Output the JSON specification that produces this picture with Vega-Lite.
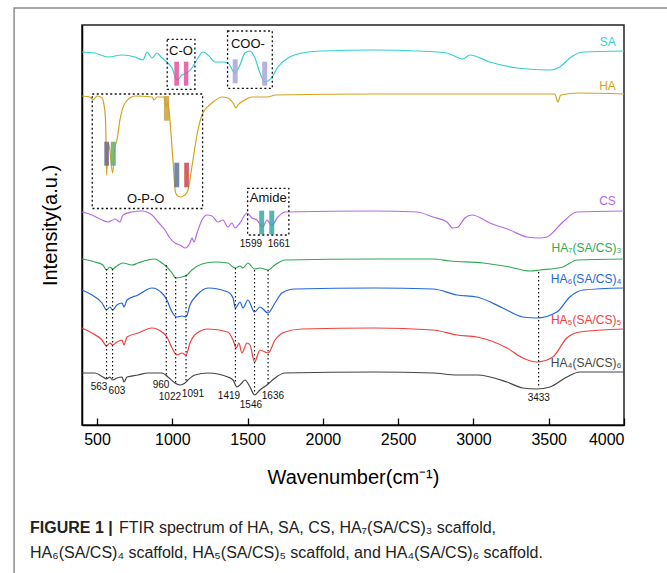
{
  "$schema": "https://vega.github.io/schema/vega-lite/v6.json",
  "width": 542,
  "height": 400,
  "autosize": {"type": "none"},
  "padding": {"left": 82, "top": 25, "right": 43, "bottom": 148},
  "background": "white",
  "config": {
    "view": {"stroke": "#222", "strokeWidth": 1.5},
    "font": "Liberation Sans"
  },
  "datasets": {
    "spectra": [
      {"s":"SA","wn":400,"v":373},{"s":"SA","wn":486,"v":372},{"s":"SA","wn":573,"v":368},{"s":"SA","wn":666,"v":370},{"s":"SA","wn":752,"v":368},{"s":"SA","wn":805,"v":365},{"s":"SA","wn":832,"v":373},{"s":"SA","wn":865,"v":367},{"s":"SA","wn":898,"v":372},{"s":"SA","wn":931,"v":367},{"s":"SA","wn":964,"v":363},{"s":"SA","wn":998,"v":357},{"s":"SA","wn":1031,"v":345},{"s":"SA","wn":1064,"v":350},{"s":"SA","wn":1097,"v":352},{"s":"SA","wn":1130,"v":357},{"s":"SA","wn":1170,"v":367},{"s":"SA","wn":1203,"v":373},{"s":"SA","wn":1237,"v":370},{"s":"SA","wn":1283,"v":363},{"s":"SA","wn":1330,"v":363},{"s":"SA","wn":1369,"v":362},{"s":"SA","wn":1416,"v":352},{"s":"SA","wn":1449,"v":360},{"s":"SA","wn":1482,"v":372},{"s":"SA","wn":1516,"v":374},{"s":"SA","wn":1549,"v":367},{"s":"SA","wn":1582,"v":352},{"s":"SA","wn":1615,"v":343},{"s":"SA","wn":1662,"v":348},{"s":"SA","wn":1701,"v":358},{"s":"SA","wn":1768,"v":367},{"s":"SA","wn":1861,"v":372},{"s":"SA","wn":1994,"v":374},{"s":"SA","wn":2346,"v":375},{"s":"SA","wn":2624,"v":374},{"s":"SA","wn":2824,"v":372},{"s":"SA","wn":2930,"v":366},{"s":"SA","wn":2976,"v":370},{"s":"SA","wn":3109,"v":363},{"s":"SA","wn":3288,"v":357},{"s":"SA","wn":3508,"v":355},{"s":"SA","wn":3574,"v":358},{"s":"SA","wn":3640,"v":367},{"s":"SA","wn":3727,"v":373},{"s":"SA","wn":4000,"v":374},
      {"s":"HA","wn":400,"v":329},{"s":"HA","wn":453,"v":328},{"s":"HA","wn":473,"v":325},{"s":"HA","wn":500,"v":329},{"s":"HA","wn":533,"v":327},{"s":"HA","wn":553,"v":312},{"s":"HA","wn":559,"v":290},{"s":"HA","wn":563,"v":250},{"s":"HA","wn":575,"v":282},{"s":"HA","wn":585,"v":275},{"s":"HA","wn":603,"v":252},{"s":"HA","wn":619,"v":278},{"s":"HA","wn":632,"v":285},{"s":"HA","wn":652,"v":305},{"s":"HA","wn":686,"v":322},{"s":"HA","wn":752,"v":329},{"s":"HA","wn":865,"v":328},{"s":"HA","wn":878,"v":325},{"s":"HA","wn":898,"v":328},{"s":"HA","wn":944,"v":328},{"s":"HA","wn":960,"v":318},{"s":"HA","wn":971,"v":323},{"s":"HA","wn":984,"v":305},{"s":"HA","wn":1004,"v":265},{"s":"HA","wn":1022,"v":232},{"s":"HA","wn":1051,"v":228},{"s":"HA","wn":1084,"v":230},{"s":"HA","wn":1104,"v":235},{"s":"HA","wn":1137,"v":265},{"s":"HA","wn":1170,"v":295},{"s":"HA","wn":1203,"v":312},{"s":"HA","wn":1263,"v":322},{"s":"HA","wn":1330,"v":328},{"s":"HA","wn":1369,"v":327},{"s":"HA","wn":1403,"v":322},{"s":"HA","wn":1423,"v":317},{"s":"HA","wn":1436,"v":320},{"s":"HA","wn":1482,"v":325},{"s":"HA","wn":1529,"v":328},{"s":"HA","wn":1635,"v":328},{"s":"HA","wn":1682,"v":330},{"s":"HA","wn":2346,"v":331},{"s":"HA","wn":3000,"v":331},{"s":"HA","wn":3540,"v":331},{"s":"HA","wn":3561,"v":323},{"s":"HA","wn":3580,"v":330},{"s":"HA","wn":3700,"v":332},{"s":"HA","wn":4000,"v":331},
      {"s":"CS","wn":400,"v":213},{"s":"CS","wn":466,"v":210},{"s":"CS","wn":533,"v":205},{"s":"CS","wn":573,"v":203},{"s":"CS","wn":619,"v":206},{"s":"CS","wn":652,"v":203},{"s":"CS","wn":672,"v":210},{"s":"CS","wn":732,"v":213},{"s":"CS","wn":798,"v":214},{"s":"CS","wn":865,"v":210},{"s":"CS","wn":905,"v":203},{"s":"CS","wn":951,"v":195},{"s":"CS","wn":984,"v":187},{"s":"CS","wn":1018,"v":182},{"s":"CS","wn":1051,"v":180},{"s":"CS","wn":1084,"v":177},{"s":"CS","wn":1117,"v":182},{"s":"CS","wn":1130,"v":187},{"s":"CS","wn":1144,"v":183},{"s":"CS","wn":1164,"v":192},{"s":"CS","wn":1197,"v":205},{"s":"CS","wn":1230,"v":210},{"s":"CS","wn":1263,"v":209},{"s":"CS","wn":1303,"v":203},{"s":"CS","wn":1336,"v":205},{"s":"CS","wn":1369,"v":198},{"s":"CS","wn":1396,"v":202},{"s":"CS","wn":1416,"v":197},{"s":"CS","wn":1449,"v":202},{"s":"CS","wn":1496,"v":212},{"s":"CS","wn":1529,"v":207},{"s":"CS","wn":1562,"v":205},{"s":"CS","wn":1599,"v":198},{"s":"CS","wn":1630,"v":205},{"s":"CS","wn":1641,"v":203},{"s":"CS","wn":1661,"v":200},{"s":"CS","wn":1701,"v":208},{"s":"CS","wn":1748,"v":213},{"s":"CS","wn":2346,"v":214},{"s":"CS","wn":2624,"v":213},{"s":"CS","wn":2731,"v":208},{"s":"CS","wn":2824,"v":203},{"s":"CS","wn":2863,"v":197},{"s":"CS","wn":2897,"v":198},{"s":"CS","wn":2943,"v":207},{"s":"CS","wn":2990,"v":210},{"s":"CS","wn":3109,"v":202},{"s":"CS","wn":3242,"v":195},{"s":"CS","wn":3355,"v":188},{"s":"CS","wn":3441,"v":187},{"s":"CS","wn":3488,"v":188},{"s":"CS","wn":3594,"v":203},{"s":"CS","wn":3687,"v":213},{"s":"CS","wn":4000,"v":214},
      {"s":"HA7","wn":400,"v":166},{"s":"HA7","wn":486,"v":163},{"s":"HA7","wn":539,"v":160},{"s":"HA7","wn":563,"v":155},{"s":"HA7","wn":585,"v":158},{"s":"HA7","wn":603,"v":156},{"s":"HA7","wn":632,"v":159},{"s":"HA7","wn":672,"v":162},{"s":"HA7","wn":732,"v":160},{"s":"HA7","wn":772,"v":162},{"s":"HA7","wn":838,"v":165},{"s":"HA7","wn":885,"v":166},{"s":"HA7","wn":931,"v":162},{"s":"HA7","wn":964,"v":158},{"s":"HA7","wn":998,"v":152},{"s":"HA7","wn":1022,"v":147},{"s":"HA7","wn":1064,"v":148},{"s":"HA7","wn":1097,"v":150},{"s":"HA7","wn":1130,"v":155},{"s":"HA7","wn":1197,"v":161},{"s":"HA7","wn":1283,"v":163},{"s":"HA7","wn":1369,"v":162},{"s":"HA7","wn":1403,"v":158},{"s":"HA7","wn":1419,"v":157},{"s":"HA7","wn":1450,"v":159},{"s":"HA7","wn":1469,"v":157},{"s":"HA7","wn":1502,"v":162},{"s":"HA7","wn":1546,"v":156},{"s":"HA7","wn":1582,"v":157},{"s":"HA7","wn":1636,"v":155},{"s":"HA7","wn":1682,"v":160},{"s":"HA7","wn":1748,"v":165},{"s":"HA7","wn":2346,"v":166},{"s":"HA7","wn":2731,"v":166},{"s":"HA7","wn":2844,"v":164},{"s":"HA7","wn":3063,"v":162},{"s":"HA7","wn":3242,"v":158},{"s":"HA7","wn":3375,"v":154},{"s":"HA7","wn":3441,"v":155},{"s":"HA7","wn":3594,"v":158},{"s":"HA7","wn":3687,"v":165},{"s":"HA7","wn":4000,"v":166},
      {"s":"HA6","wn":400,"v":135},{"s":"HA6","wn":466,"v":130},{"s":"HA6","wn":533,"v":122},{"s":"HA6","wn":563,"v":115},{"s":"HA6","wn":585,"v":118},{"s":"HA6","wn":603,"v":115},{"s":"HA6","wn":632,"v":120},{"s":"HA6","wn":666,"v":122},{"s":"HA6","wn":679,"v":118},{"s":"HA6","wn":699,"v":125},{"s":"HA6","wn":772,"v":130},{"s":"HA6","wn":865,"v":137},{"s":"HA6","wn":931,"v":132},{"s":"HA6","wn":964,"v":125},{"s":"HA6","wn":998,"v":113},{"s":"HA6","wn":1031,"v":108},{"s":"HA6","wn":1064,"v":109},{"s":"HA6","wn":1091,"v":108},{"s":"HA6","wn":1117,"v":120},{"s":"HA6","wn":1164,"v":130},{"s":"HA6","wn":1237,"v":137},{"s":"HA6","wn":1369,"v":133},{"s":"HA6","wn":1403,"v":127},{"s":"HA6","wn":1419,"v":117},{"s":"HA6","wn":1450,"v":123},{"s":"HA6","wn":1469,"v":117},{"s":"HA6","wn":1502,"v":125},{"s":"HA6","wn":1546,"v":113},{"s":"HA6","wn":1582,"v":118},{"s":"HA6","wn":1636,"v":112},{"s":"HA6","wn":1682,"v":122},{"s":"HA6","wn":1728,"v":132},{"s":"HA6","wn":1814,"v":136},{"s":"HA6","wn":2346,"v":137},{"s":"HA6","wn":2731,"v":136},{"s":"HA6","wn":2890,"v":130},{"s":"HA6","wn":3023,"v":128},{"s":"HA6","wn":3195,"v":117},{"s":"HA6","wn":3328,"v":108},{"s":"HA6","wn":3421,"v":107},{"s":"HA6","wn":3554,"v":113},{"s":"HA6","wn":3640,"v":128},{"s":"HA6","wn":3727,"v":135},{"s":"HA6","wn":4000,"v":137},
      {"s":"HA5","wn":400,"v":97},{"s":"HA5","wn":466,"v":92},{"s":"HA5","wn":533,"v":85},{"s":"HA5","wn":563,"v":79},{"s":"HA5","wn":585,"v":82},{"s":"HA5","wn":603,"v":80},{"s":"HA5","wn":632,"v":83},{"s":"HA5","wn":666,"v":85},{"s":"HA5","wn":679,"v":80},{"s":"HA5","wn":699,"v":88},{"s":"HA5","wn":772,"v":92},{"s":"HA5","wn":865,"v":97},{"s":"HA5","wn":931,"v":93},{"s":"HA5","wn":964,"v":88},{"s":"HA5","wn":998,"v":77},{"s":"HA5","wn":1031,"v":70},{"s":"HA5","wn":1064,"v":72},{"s":"HA5","wn":1091,"v":70},{"s":"HA5","wn":1117,"v":82},{"s":"HA5","wn":1164,"v":92},{"s":"HA5","wn":1237,"v":96},{"s":"HA5","wn":1369,"v":93},{"s":"HA5","wn":1403,"v":85},{"s":"HA5","wn":1425,"v":77},{"s":"HA5","wn":1442,"v":82},{"s":"HA5","wn":1462,"v":72},{"s":"HA5","wn":1496,"v":82},{"s":"HA5","wn":1516,"v":80},{"s":"HA5","wn":1546,"v":63},{"s":"HA5","wn":1582,"v":75},{"s":"HA5","wn":1636,"v":72},{"s":"HA5","wn":1682,"v":85},{"s":"HA5","wn":1748,"v":93},{"s":"HA5","wn":1861,"v":96},{"s":"HA5","wn":2346,"v":97},{"s":"HA5","wn":2731,"v":95},{"s":"HA5","wn":2890,"v":90},{"s":"HA5","wn":3023,"v":88},{"s":"HA5","wn":3222,"v":77},{"s":"HA5","wn":3328,"v":67},{"s":"HA5","wn":3421,"v":63},{"s":"HA5","wn":3527,"v":68},{"s":"HA5","wn":3620,"v":87},{"s":"HA5","wn":3707,"v":93},{"s":"HA5","wn":4000,"v":96},
      {"s":"HA4","wn":400,"v":52},{"s":"HA4","wn":486,"v":52},{"s":"HA4","wn":539,"v":48},{"s":"HA4","wn":563,"v":46},{"s":"HA4","wn":585,"v":48},{"s":"HA4","wn":603,"v":45},{"s":"HA4","wn":632,"v":47},{"s":"HA4","wn":666,"v":48},{"s":"HA4","wn":679,"v":43},{"s":"HA4","wn":699,"v":48},{"s":"HA4","wn":772,"v":50},{"s":"HA4","wn":838,"v":52},{"s":"HA4","wn":931,"v":52},{"s":"HA4","wn":971,"v":48},{"s":"HA4","wn":1018,"v":42},{"s":"HA4","wn":1051,"v":40},{"s":"HA4","wn":1084,"v":42},{"s":"HA4","wn":1104,"v":45},{"s":"HA4","wn":1150,"v":50},{"s":"HA4","wn":1237,"v":52},{"s":"HA4","wn":1369,"v":48},{"s":"HA4","wn":1403,"v":45},{"s":"HA4","wn":1429,"v":38},{"s":"HA4","wn":1462,"v":42},{"s":"HA4","wn":1482,"v":45},{"s":"HA4","wn":1516,"v":38},{"s":"HA4","wn":1546,"v":30},{"s":"HA4","wn":1582,"v":35},{"s":"HA4","wn":1628,"v":40},{"s":"HA4","wn":1682,"v":47},{"s":"HA4","wn":1748,"v":52},{"s":"HA4","wn":2346,"v":53},{"s":"HA4","wn":2731,"v":52},{"s":"HA4","wn":2890,"v":50},{"s":"HA4","wn":3023,"v":50},{"s":"HA4","wn":3222,"v":43},{"s":"HA4","wn":3328,"v":37},{"s":"HA4","wn":3421,"v":36},{"s":"HA4","wn":3508,"v":38},{"s":"HA4","wn":3620,"v":48},{"s":"HA4","wn":3707,"v":53},{"s":"HA4","wn":4000,"v":53}
    ],
    "boxes": [
      {"name":"C-O","wn":966,"wn2":1150,"v":385.7,"v2":335.7},
      {"name":"COO-","wn":1367,"wn2":1664,"v":394,"v2":336.7},
      {"name":"O-P-O","wn":468,"wn2":1201,"v":331,"v2":216.5},
      {"name":"Amide","wn":1500,"wn2":1774,"v":236.7,"v2":190}
    ],
    "boxlabels": [
      {"t":"C-O","wn":1057,"v":374},
      {"t":"COO-","wn":1502,"v":381},
      {"t":"O-P-O","wn":823,"v":226},
      {"t":"Amide","wn":1637,"v":227}
    ],
    "bars": [
      {"g":"CO","wn":1013,"wn2":1044,"v":363.3,"v2":339.3},
      {"g":"CO","wn":1077,"wn2":1106,"v":363.3,"v2":339.3},
      {"g":"COO","wn":1401,"wn2":1434,"v":365.7,"v2":341.7},
      {"g":"COO","wn":1597,"wn2":1630,"v":363.3,"v2":339.3},
      {"g":"P960","wn":944,"wn2":978,"v":329,"v2":304.3},
      {"g":"P563","wn":548,"wn2":579,"v":283.3,"v2":259.3},
      {"g":"P603","wn":591,"wn2":624,"v":283.3,"v2":259.3},
      {"g":"P1022","wn":1013,"wn2":1046,"v":262.3,"v2":237.7},
      {"g":"P1091","wn":1079,"wn2":1110,"v":262.3,"v2":237.7},
      {"g":"Amide","wn":1577,"wn2":1610,"v":214.3,"v2":190.7},
      {"g":"Amide","wn":1644,"wn2":1677,"v":214.3,"v2":190.7}
    ],
    "rules": [
      {"wn":563,"v":156,"v2":45},{"wn":603,"v":156,"v2":45},{"wn":960,"v":160,"v2":48},{"wn":1022,"v":148,"v2":40},{"wn":1091,"v":150,"v2":43},{"wn":1419,"v":157,"v2":42},{"wn":1546,"v":155,"v2":32},{"wn":1636,"v":155,"v2":40},{"wn":3433,"v":153,"v2":37}
    ],
    "peaks": [
      {"t":"563","wn":513,"v":38},{"t":"603","wn":632,"v":34},{"t":"960","wn":925,"v":40},{"t":"1022","wn":984,"v":28},{"t":"1091","wn":1137,"v":31},{"t":"1419","wn":1376,"v":29},{"t":"1546","wn":1522,"v":20},{"t":"1636","wn":1668,"v":29},{"t":"3433","wn":3434,"v":27},{"t":"1599","wn":1522,"v":181},{"t":"1661","wn":1708,"v":181}
    ],
    "serieslabels": [
      {"s":"SA","t":"SA","wn":3946,"v":383},
      {"s":"HA","t":"HA","wn":3946,"v":339},
      {"s":"CS","t":"CS","wn":3946,"v":224},
      {"s":"HA7","t":"HA₇(SA/CS)₃","wn":3982,"v":177},
      {"s":"HA6","t":"HA₆(SA/CS)₄","wn":3982,"v":146},
      {"s":"HA5","t":"HA₅(SA/CS)₅","wn":3982,"v":105},
      {"s":"HA4","t":"HA₄(SA/CS)₆","wn":3982,"v":62}
    ],
    "frame": [{"wn":-51,"wn2":4600,"v":417,"v2":-200}],
    "captionbold": [{"t":"FIGURE 1 |","wn":55,"v":-103}],
    "caption": [
      {"t":"FTIR spectrum of HA, SA, CS, HA₇(SA/CS)₃ scaffold,","wn":645,"v":-103},
      {"t":"HA₆(SA/CS)₄ scaffold, HA₅(SA/CS)₅ scaffold, and HA₄(SA/CS)₆ scaffold.","wn":55,"v":-128}
    ]
  },
  "layer": [
    {
      "data": {"name": "frame"},
      "mark": {"type": "rect", "filled": false, "stroke": "#8c8c8c", "strokeWidth": 1.5, "clip": false},
      "encoding": {
        "x": {"field": "wn", "type": "quantitative", "scale": {"domain": [400, 4000], "nice": false, "zero": false},
          "axis": {
            "values": [500,750,1000,1250,1500,1750,2000,2250,2500,2750,3000,3250,3500,3750,4000],
            "labelExpr": "datum.value % 500 === 0 ? datum.label : ''",
            "format": "d",
            "tickSize": {"condition": {"test": "datum.value % 500 === 0", "value": -7}, "value": -3.5},
            "tickColor": "#000", "tickWidth": 1.3,
            "domainColor": "#000", "domainWidth": 1.5,
            "labelFontSize": 16, "labelColor": "#000", "labelPadding": 13, "labelFont": "Liberation Sans",
            "grid": false,
            "title": "Wavenumber(cm⁻¹)", "titleFontSize": 20, "titleFontWeight": "normal", "titleColor": "#000", "titlePadding": 20, "titleFont": "Liberation Sans"
          }},
        "x2": {"field": "wn2"},
        "y": {"field": "v", "type": "quantitative", "scale": {"domain": [0, 400], "nice": false, "zero": false},
          "axis": {"ticks": false, "labels": false, "grid": false, "domainColor": "#000", "domainWidth": 1.5,
            "title": "Intensity(a.u.)", "titleFontSize": 20, "titleFontWeight": "normal", "titleColor": "#000", "titlePadding": 22, "titleFont": "Liberation Sans"}},
        "y2": {"field": "v2"}
      }
    },
    {
      "data": {"name": "spectra"},
      "mark": {"type": "line", "strokeWidth": 1.2, "interpolate": "monotone"},
      "encoding": {
        "x": {"field": "wn", "type": "quantitative"},
        "y": {"field": "v", "type": "quantitative"},
        "color": {"field": "s", "type": "nominal", "legend": null,
          "scale": {"domain": ["SA","HA","CS","HA7","HA6","HA5","HA4"], "range": ["#33d1d1","#d6a21e","#b36ae8","#2eaa55","#2266dd","#f04040","#444444"]}},
        "order": {"field": "wn", "type": "quantitative"}
      }
    },
    {
      "data": {"name": "bars"},
      "mark": {"type": "rect", "fillOpacity": 0.85},
      "encoding": {
        "x": {"field": "wn", "type": "quantitative"},
        "x2": {"field": "wn2"},
        "y": {"field": "v", "type": "quantitative"},
        "y2": {"field": "v2"},
        "fill": {"field": "g", "type": "nominal", "legend": null,
          "scale": {"domain": ["CO","COO","P960","P563","P603","P1022","P1091","Amide"], "range": ["#e6509e","#a9a4db","#c9a03a","#6e6c8a","#5fae6e","#5a7397","#cc4444","#34aaa2"]}}
      }
    },
    {
      "data": {"name": "boxes"},
      "mark": {"type": "rect", "filled": false, "stroke": "#111", "strokeWidth": 1.3, "strokeDash": [2, 2.5]},
      "encoding": {
        "x": {"field": "wn", "type": "quantitative"},
        "x2": {"field": "wn2"},
        "y": {"field": "v", "type": "quantitative"},
        "y2": {"field": "v2"}
      }
    },
    {
      "data": {"name": "rules"},
      "mark": {"type": "rule", "stroke": "#111", "strokeWidth": 1.2, "strokeDash": [1.5, 2.5]},
      "encoding": {
        "x": {"field": "wn", "type": "quantitative"},
        "y": {"field": "v", "type": "quantitative"},
        "y2": {"field": "v2"}
      }
    },
    {
      "data": {"name": "peaks"},
      "mark": {"type": "text", "fontSize": 10, "color": "#111", "font": "Liberation Sans", "baseline": "middle", "align": "center"},
      "encoding": {
        "x": {"field": "wn", "type": "quantitative"},
        "y": {"field": "v", "type": "quantitative"},
        "text": {"field": "t"}
      }
    },
    {
      "data": {"name": "boxlabels"},
      "mark": {"type": "text", "fontSize": 13, "color": "#111", "font": "Liberation Sans", "baseline": "middle", "align": "center"},
      "encoding": {
        "x": {"field": "wn", "type": "quantitative"},
        "y": {"field": "v", "type": "quantitative"},
        "text": {"field": "t"}
      }
    },
    {
      "data": {"name": "serieslabels"},
      "mark": {"type": "text", "fontSize": 12, "font": "Liberation Sans", "baseline": "middle", "align": "right"},
      "encoding": {
        "x": {"field": "wn", "type": "quantitative"},
        "y": {"field": "v", "type": "quantitative"},
        "text": {"field": "t"},
        "color": {"field": "s", "type": "nominal", "legend": null}
      }
    },
    {
      "data": {"name": "captionbold"},
      "mark": {"type": "text", "fontSize": 16, "fontWeight": "bold", "color": "#222", "font": "Liberation Sans", "baseline": "middle", "align": "left", "clip": false},
      "encoding": {
        "x": {"field": "wn", "type": "quantitative"},
        "y": {"field": "v", "type": "quantitative"},
        "text": {"field": "t"}
      }
    },
    {
      "data": {"name": "caption"},
      "mark": {"type": "text", "fontSize": 16, "color": "#222", "font": "Liberation Sans", "baseline": "middle", "align": "left", "clip": false},
      "encoding": {
        "x": {"field": "wn", "type": "quantitative"},
        "y": {"field": "v", "type": "quantitative"},
        "text": {"field": "t"}
      }
    }
  ]
}
